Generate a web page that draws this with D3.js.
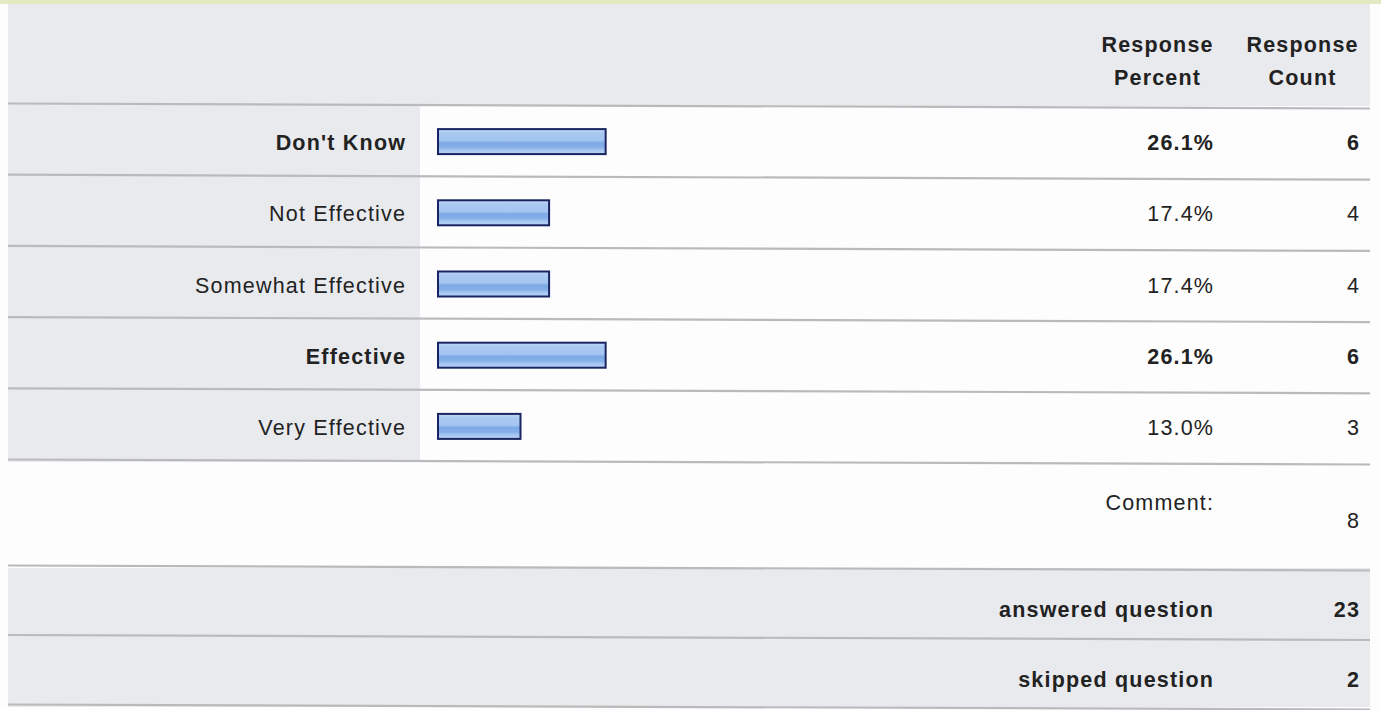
<!DOCTYPE html>
<html><head><meta charset="utf-8">
<script src="https://cdn.jsdelivr.net/npm/d3@7"></script>
<style>
html,body{margin:0;padding:0;background:#fdfdfd;}
svg{display:block;}
text{font-family:"Liberation Sans",Arial,sans-serif;fill:#222;}
</style></head>
<body>
<svg id="chart" width="1381" height="710"></svg>
<script>
const categories = ["Don't Know","Not Effective","Somewhat Effective","Effective","Very Effective"];
const percents = [26.1, 17.4, 17.4, 26.1, 13.0];
const counts = [6, 4, 4, 6, 3];
const headerLabels = [["Response","Percent"],["Response","Count"]];
const commentLabel = "Comment:";
const commentCount = 8;
const summaryLabels = ["answered question","skipped question"];
const summaryValues = [23, 2];

const W = 1381, H = 710;
const left = 8, right = 1370, labelColRight = 420;
const headerTop = 4, headerBottom = 106, rowH = 71.2;
const svg = d3.select("#chart");

// top strip
svg.append("rect").attr("x",0).attr("y",0).attr("width",W).attr("height",4).attr("fill","#e3eac2");

// header background
svg.append("rect").attr("x",left).attr("y",headerTop).attr("width",right-left).attr("height",headerBottom-headerTop).attr("fill","#e9eaee");

const y = d3.scaleBand().domain(categories).range([headerBottom, headerBottom + rowH*categories.length]).padding(0);
const x = d3.scaleLinear().domain([0,100]).range([437, 437+650]);

const bodyBottom = y.range()[1];
const commentBottom = bodyBottom + 106;
const summaryH = 69.5;

// label column background for category rows
svg.append("rect").attr("x",left).attr("y",headerBottom).attr("width",labelColRight-left).attr("height",bodyBottom-headerBottom).attr("fill","#e9eaee");
// summary rows background
svg.append("rect").attr("x",left).attr("y",commentBottom).attr("width",right-left).attr("height",summaryH*2).attr("fill","#e9eaee");

// gradient
const defs = svg.append("defs");
const g = defs.append("linearGradient").attr("id","barGrad").attr("x1",0).attr("y1",0).attr("x2",0).attr("y2",1);
[[0,"#c4dbf7"],[0.15,"#a9c9f1"],[0.45,"#a4c5f0"],[0.55,"#7ea9e6"],[0.72,"#86afe8"],[0.85,"#a8c8f2"],[1,"#b9d3f5"]]
  .forEach(([o,c])=>g.append("stop").attr("offset",o).attr("stop-color",c));

// divider lines
const lineYs = [headerBottom, ...categories.map(c=>y(c)+y.bandwidth()), commentBottom, commentBottom+summaryH, commentBottom+summaryH*2];
svg.selectAll("line.div").data(lineYs).join("line")
  .attr("x1",left).attr("x2",right)
  .attr("y1",d=>d-2.5).attr("y2",d=>d+2.5)
  .attr("stroke","#b9babc").attr("stroke-width",2.2);

const maxP = d3.max(percents);
const fs = 21.5, ls = 1.2;

// header
const hx = [1157, 1302];
headerLabels.forEach((lines,i)=>{
  lines.forEach((t,j)=>{
    svg.append("text").attr("x",hx[i]+ls/2).attr("y",52+j*33).attr("text-anchor","middle")
      .attr("font-size",fs).attr("font-weight","bold").attr("letter-spacing",ls).text(t);
  });
});

const rows = svg.selectAll("g.row").data(categories).join("g").attr("class","row");
rows.append("rect")
  .attr("x",x(0)+1).attr("y",d=>y(d)+y.bandwidth()/2-12.5)
  .attr("width",(d,i)=>x(percents[i])-x(0)-2).attr("height",25)
  .attr("fill","url(#barGrad)").attr("stroke","#1b2462").attr("stroke-width",2);
rows.append("text").attr("x",405+ls).attr("y",d=>y(d)+y.bandwidth()/2+8.5)
  .attr("text-anchor","end").attr("font-size",fs).attr("letter-spacing",ls)
  .attr("font-weight",(d,i)=>percents[i]===maxP?"bold":"normal").text(d=>d);
rows.append("text").attr("x",1213+ls).attr("y",d=>y(d)+y.bandwidth()/2+8.5)
  .attr("text-anchor","end").attr("font-size",fs).attr("letter-spacing",ls)
  .attr("font-weight",(d,i)=>percents[i]===maxP?"bold":"normal").text((d,i)=>percents[i].toFixed(1)+"%");
rows.append("text").attr("x",1359+ls).attr("y",d=>y(d)+y.bandwidth()/2+8.5)
  .attr("text-anchor","end").attr("font-size",fs).attr("letter-spacing",ls)
  .attr("font-weight",(d,i)=>percents[i]===maxP?"bold":"normal").text((d,i)=>counts[i]);

// comment row
svg.append("text").attr("x",1213+ls).attr("y",bodyBottom+48).attr("text-anchor","end")
  .attr("font-size",fs).attr("letter-spacing",ls).text(commentLabel);
svg.append("text").attr("x",1359+ls).attr("y",bodyBottom+66).attr("text-anchor","end")
  .attr("font-size",fs).attr("letter-spacing",ls).text(commentCount);

// summary rows
summaryLabels.forEach((t,i)=>{
  const cy = commentBottom + summaryH*i + summaryH/2;
  svg.append("text").attr("x",1213+ls).attr("y",cy+14.5).attr("text-anchor","end")
    .attr("font-size",fs).attr("font-weight","bold").attr("letter-spacing",ls).text(t);
  svg.append("text").attr("x",1359+ls).attr("y",cy+14.5).attr("text-anchor","end")
    .attr("font-size",fs).attr("font-weight","bold").attr("letter-spacing",ls).text(summaryValues[i]);
});
</script>
</body></html>
